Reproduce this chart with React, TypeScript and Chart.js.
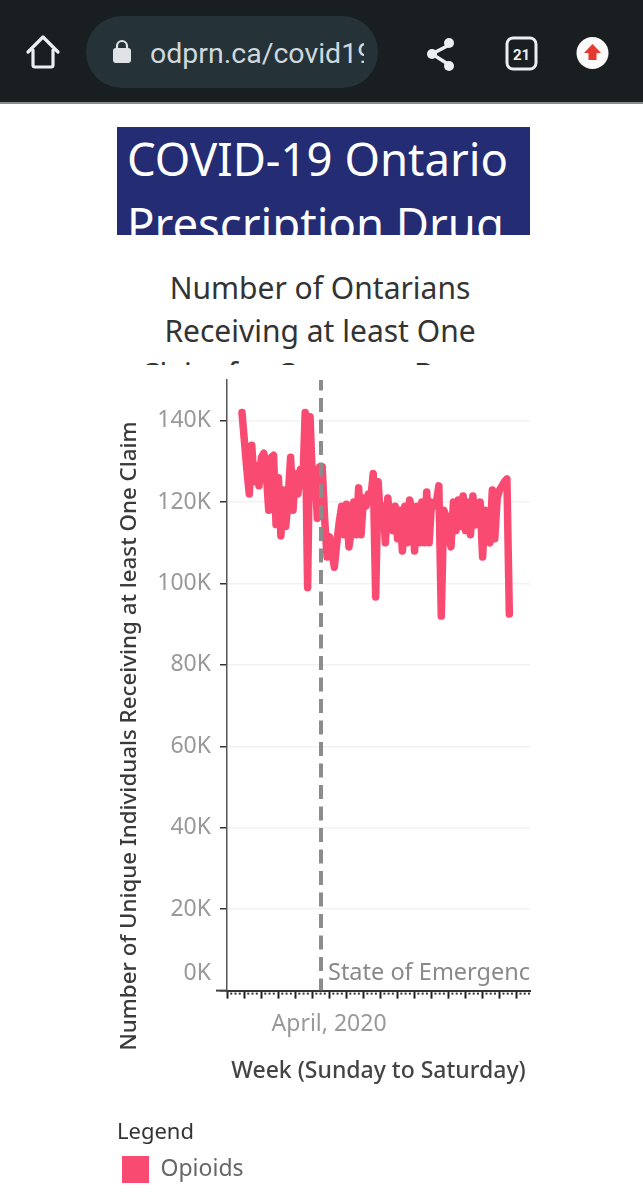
import React, { useEffect, useRef } from "react";
import { Chart, registerables } from "chart.js";

Chart.register(...registerables);

const FONT = '"Noto Sans", "Open Sans", sans-serif';

// Daily number of individuals (thousands)
const opioids = [
  142, 135, 128, 122, 134, 125, 129, 124, 131, 132,
  127, 118, 131, 131.5, 114.5, 126, 111.7, 123, 114, 121,
  131, 118, 127, 122, 128, 124, 142, 99, 141, 125,
  128, 116, 128.7, 128.7, 116, 106.5, 111.5, 108, 104, 110,
  115, 119, 112, 119.5, 109, 113, 120, 112, 123.5, 112,
  121, 119, 122, 121, 127, 96.7, 125, 116, 119, 110,
  121, 114, 113, 119, 111, 118, 108, 119, 110, 120.5,
  118, 108, 119, 110, 120, 110, 122.5, 110, 120, 119,
  120, 124, 92, 118, 116.5, 111.5, 109, 120, 113, 120.5,
  114, 121.5, 113, 120, 112, 121.5, 114.4, 115, 120, 106.5,
  118, 112, 110, 123, 111, 121, 123, 124, 125, 125.7, 92.5,
];
const yTickValues = [0, 20000, 40000, 60000, 80000, 100000, 120000, 140000];
const majorTickDays = [
  -6.17, 0.83, 7.83, 14.83, 21.83, 28.83, 35.83, 42.83, 49.83,
  56.83, 63.83, 70.83, 77.83, 84.83, 91.83, 98.83, 105.83, 112.83,
];
const emergencyDay = 32.5;
const xAxisLabel = "April, 2020";
const xAxisLabelIndex = 6;
const xTitle = "Week (Sunday to Saturday)";
const yTitle = "Number of Unique Individuals Receiving at least One Claim";
const emergencyLabel = "State of Emergency";
const seriesName = "Opioids";
const PINK = "#f94a72";

const extrasPlugin = {
  id: "extras",
  afterDatasetsDraw(chart: any) {
    const { ctx, scales, chartArea } = chart;
    const x = scales.x;
    const y = scales.y;
    ctx.save();
    // emergency note, clipped by the plot
    ctx.save();
    ctx.beginPath();
    ctx.rect(chartArea.left, chartArea.top, chartArea.right - chartArea.left, chartArea.bottom - chartArea.top);
    ctx.clip();
    ctx.font = `23.5px ${FONT}`;
    ctx.fillStyle = "#8a8a8a";
    ctx.textBaseline = "middle";
    ctx.textAlign = "left";
    ctx.fillText(emergencyLabel, x.getPixelForValue(emergencyDay) + 7, y.getPixelForValue(0) - 17);
    ctx.restore();
    // minor ticks
    ctx.fillStyle = "#333";
    const sub = 4;
    majorTickDays.forEach((d) => {
      for (let i = 1; i < sub; i++) {
        const px = x.getPixelForValue(d + (7 * i) / sub);
        if (px < chartArea.right) ctx.fillRect(px - 1, chartArea.bottom + 2, 2, 2);
      }
    });
    // left stub of the base line
    ctx.fillStyle = "#444";
    ctx.fillRect(216, chartArea.bottom - 1, chartArea.left - 216, 2);
    // y title, centred under its own anchor
    ctx.translate(130, 736);
    ctx.rotate(-Math.PI / 2);
    ctx.font = `500 22.3px ${FONT}`;
    ctx.fillStyle = "#3a3a3a";
    ctx.textAlign = "center";
    ctx.textBaseline = "middle";
    ctx.fillText(yTitle, 0, 0);
    ctx.restore();
  },
};

function Header() {
  return (
    <>
      <div style={{ position: "absolute", left: 0, top: 0, width: 643, height: 102, background: "#191e21", borderBottom: "2px solid #8a8d8f" }} />
      <div style={{ position: "absolute", left: 86, top: 16, width: 292, height: 72, borderRadius: 36, background: "#253238" }} />
      <div style={{ position: "absolute", left: 150, top: 34, width: 214, height: 40, overflow: "hidden", color: "#cfd8dc", font: "28.5px Roboto, sans-serif", lineHeight: "40px", whiteSpace: "nowrap" }}>
        odprn.ca/covid19
      </div>
      <svg style={{ position: "absolute", left: 0, top: 0 }} width={643} height={102}>
        <path d="M28 52 L43 37 L58 52 M33 50 V65 Q33 67 35 67 H51 Q53 67 53 65 V50" fill="none" stroke="#eceff1" strokeWidth={3.2} strokeLinejoin="round" strokeLinecap="round" />
        <rect x={113} y={48} width={18} height={15} rx={3} fill="#e0e3e5" />
        <path d="M117 49 V46 A5 5 0 0 1 127 46 V49" fill="none" stroke="#e0e3e5" strokeWidth={2.2} />
        <path d="M451 44 L432 54 L451 66" fill="none" stroke="#eceff1" strokeWidth={3.5} />
        <circle cx={432} cy={54} r={5} fill="#eceff1" />
        <circle cx={449} cy={43} r={5} fill="#eceff1" />
        <circle cx={449} cy={66} r={5} fill="#eceff1" />
        <rect x={507} y={38} width={29} height={31} rx={6} fill="none" stroke="#eceff1" strokeWidth={3} />
        <text x={521.5} y={60} textAnchor="middle" fill="#eceff1" style={{ font: "bold 15px Roboto, sans-serif" }}>21</text>
        <circle cx={592.5} cy={53} r={16} fill="#fafafa" />
        <path d="M592.5 44 L601 53 H596.5 V60 H588.5 V53 H584 Z" fill="#e53a2f" />
      </svg>
      <div style={{ position: "absolute", left: 117, top: 127, width: 413, height: 108, overflow: "hidden", background: "#242c73", color: "#fff", font: `45.5px ${FONT}`, lineHeight: "65px" }}>
        <div style={{ position: "absolute", left: 10, top: -1, whiteSpace: "nowrap" }}>
          COVID-19 Ontario
          <br />
          Prescription Drug
        </div>
      </div>
      <div style={{ position: "absolute", left: 117, top: 266, width: 406, height: 99, overflow: "hidden", color: "#333", font: `30px ${FONT}`, lineHeight: "43px", textAlign: "center" }}>
        Number of Ontarians
        <br />
        Receiving at least One
        <br />
        Claim for Common Drugs
      </div>
    </>
  );
}

export default function App() {
  const ref = useRef<HTMLCanvasElement | null>(null);
  useEffect(() => {
    if (!ref.current) return;
    const chart = new Chart(ref.current, {
      type: "line",
      data: {
        datasets: [
          {
            label: "State of Emergency",
            data: [
              { x: emergencyDay, y: 0 },
              { x: emergencyDay, y: 150000 },
            ],
            borderColor: "#8c8c8c",
            borderWidth: 4,
            borderDash: [14, 7.5],
            borderDashOffset: 2,
            pointRadius: 0,
            order: 0,
          },
          {
            label: seriesName,
            data: opioids.map((v, i) => ({ x: i, y: v * 1000 })),
            borderColor: PINK,
            backgroundColor: PINK,
            borderWidth: 7.5,
            borderCapStyle: "round",
            borderJoinStyle: "round",
            pointRadius: 0,
            tension: 0,
            order: 1,
          },
        ],
      },
      options: {
        responsive: false,
        animation: false,
        devicePixelRatio: 1,
        layout: { padding: { left: 117, right: 113, top: 380, bottom: 7 } },
        plugins: {
          tooltip: { enabled: false },
          legend: {
            position: "bottom",
            align: "start",
            title: {
              display: true,
              text: "Legend",
              color: "#333",
              position: "start",
              font: { family: FONT, size: 22 },
              padding: { top: 3, bottom: 3 },
            },
            labels: {
              filter: (it: any) => it.text === seriesName,
              boxWidth: 27,
              boxHeight: 27,
              padding: 5,
              color: "#666",
              font: { family: FONT, size: 23 },
              generateLabels: (c: any) =>
                c.data.datasets.map((d: any, i: number) => ({
                  text: d.label,
                  fillStyle: PINK,
                  strokeStyle: PINK,
                  lineWidth: 0,
                  datasetIndex: i,
                  fontColor: "#666",
                })),
            },
          },
        },
        scales: {
          x: {
            type: "linear",
            min: -6.17,
            max: 118.5,
            afterBuildTicks: (s: any) => {
              s.ticks = majorTickDays.map((value) => ({ value }));
            },
            afterFit: (s: any) => {
              s.height = 128;
            },
            border: { color: "#333", width: 2 },
            grid: { drawOnChartArea: false, color: "#222", tickColor: "#222", tickWidth: 2, tickLength: 8 },
            ticks: {
              autoSkip: false,
              maxRotation: 0,
              minRotation: 0,
              padding: 12,
              color: "#999",
              font: { family: FONT, size: 23 },
              callback: (_v: any, i: number) => (i === xAxisLabelIndex ? xAxisLabel : ""),
            },
            title: {
              display: true,
              text: xTitle,
              color: "#444",
              font: { family: FONT, size: 23, weight: "500" },
              padding: { top: 18, bottom: 33 },
            },
          },
          y: {
            type: "linear",
            min: 0,
            max: 150000,
            afterBuildTicks: (s: any) => {
              s.ticks = yTickValues.map((value) => ({ value }));
            },
            afterFit: (s: any) => {
              s.width = 110;
            },
            border: { color: "#555", width: 1.5 },
            grid: { color: "#f2f2f2", lineWidth: 1.5, tickColor: "#333", tickLength: 7, tickWidth: 1.5 },
            ticks: {
              padding: 9,
              color: "#999",
              font: { family: FONT, size: 23, lineHeight: 1.5 },
              callback: (v: any) => (v === 0 ? ["0K", ""] : `${v / 1000}K`),
            },
          },
        },
      },
      plugins: [extrasPlugin],
    } as any);
    return () => chart.destroy();
  }, []);
  return (
    <div style={{ position: "absolute", left: 0, top: 0, width: 643, height: 1200, overflow: "hidden", background: "#fff" }}>
      <Header />
      <canvas ref={ref} width={643} height={1200} style={{ position: "absolute", left: 0, top: 0, display: "block" }} />
    </div>
  );
}
